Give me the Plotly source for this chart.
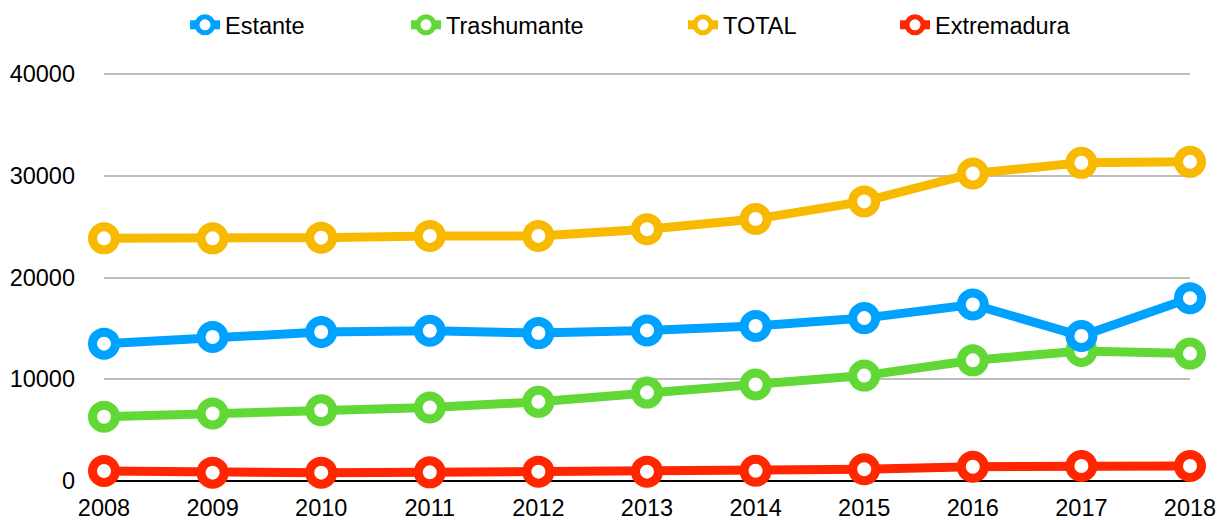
import plotly.graph_objects as go

years = [2008, 2009, 2010, 2011, 2012, 2013, 2014, 2015, 2016, 2017, 2018]
estante = [13500, 14150, 14640, 14770, 14540, 14800, 15230, 16010, 17350, 14250, 17970]
trashumante = [6310, 6640, 6960, 7220, 7780, 8690, 9480, 10360, 11860, 12780, 12520]
total = [23850, 23850, 23920, 24090, 24090, 24740, 25750, 27480, 30230, 31270, 31370]
extremadura = [980, 820, 820, 850, 920, 920, 1010, 1150, 1400, 1470, 1470]
y_ticks = [0, 10000, 20000, 30000, 40000]

series = [
    ("Extremadura", extremadura, "#FF2600", "legend4"),
    ("TOTAL", total, "#F8BA00", "legend3"),
    ("Trashumante", trashumante, "#61D836", "legend2"),
    ("Estante", estante, "#00A2FF", "legend"),
]

FONT = "Liberation Sans, Arial, Helvetica, sans-serif"
FS = 23.5
W, H = 1219, 512  # page body has an 8px margin

fig = go.Figure()
for name, vals, color, lg in series:
    fig.add_trace(go.Scatter(
        x=years, y=vals, name=name, mode="lines+markers",
        line=dict(color=color, width=9),
        marker=dict(symbol="circle", size=23, color="white",
                    line=dict(color=color, width=9)),
        cliponaxis=False, legend=lg, hoverinfo="skip",
    ))

def leg(xpx):
    return dict(orientation="h", xref="container", yref="container",
                x=xpx / W, y=1 - 17 / H, xanchor="left", yanchor="middle",
                font=dict(family=FONT, size=FS, color="#000000"),
                bgcolor="rgba(0,0,0,0)", borderwidth=0, itemclick=False,
                itemdoubleclick=False)

fig.update_layout(
    width=W, height=H,
    margin=dict(l=96, r=37, t=64, b=39, autoexpand=False),
    paper_bgcolor="white", plot_bgcolor="white",
    font=dict(family=FONT, size=FS, color="#000000"),
    showlegend=True,
    legend=leg(177),
    legend2=leg(398),
    legend3=leg(675),
    legend4=leg(887),
    xaxis=dict(range=[2008, 2018], tickvals=years, showgrid=False,
               showline=False, zeroline=False, ticks="", automargin=False,
               ticklabelstandoff=10, tickfont=dict(family=FONT, size=FS)),
    yaxis=dict(range=[0, 40200], tickvals=y_ticks, tickformat="d",
               showgrid=True, gridcolor="#BDBDBD", gridwidth=2,
               zeroline=True, zerolinecolor="#000000", zerolinewidth=2,
               showline=False, ticks="", ticklabelstandoff=28, automargin=False,
               tickfont=dict(family=FONT, size=FS)),
    hovermode=False,
)

fig.write_html("out.html")
